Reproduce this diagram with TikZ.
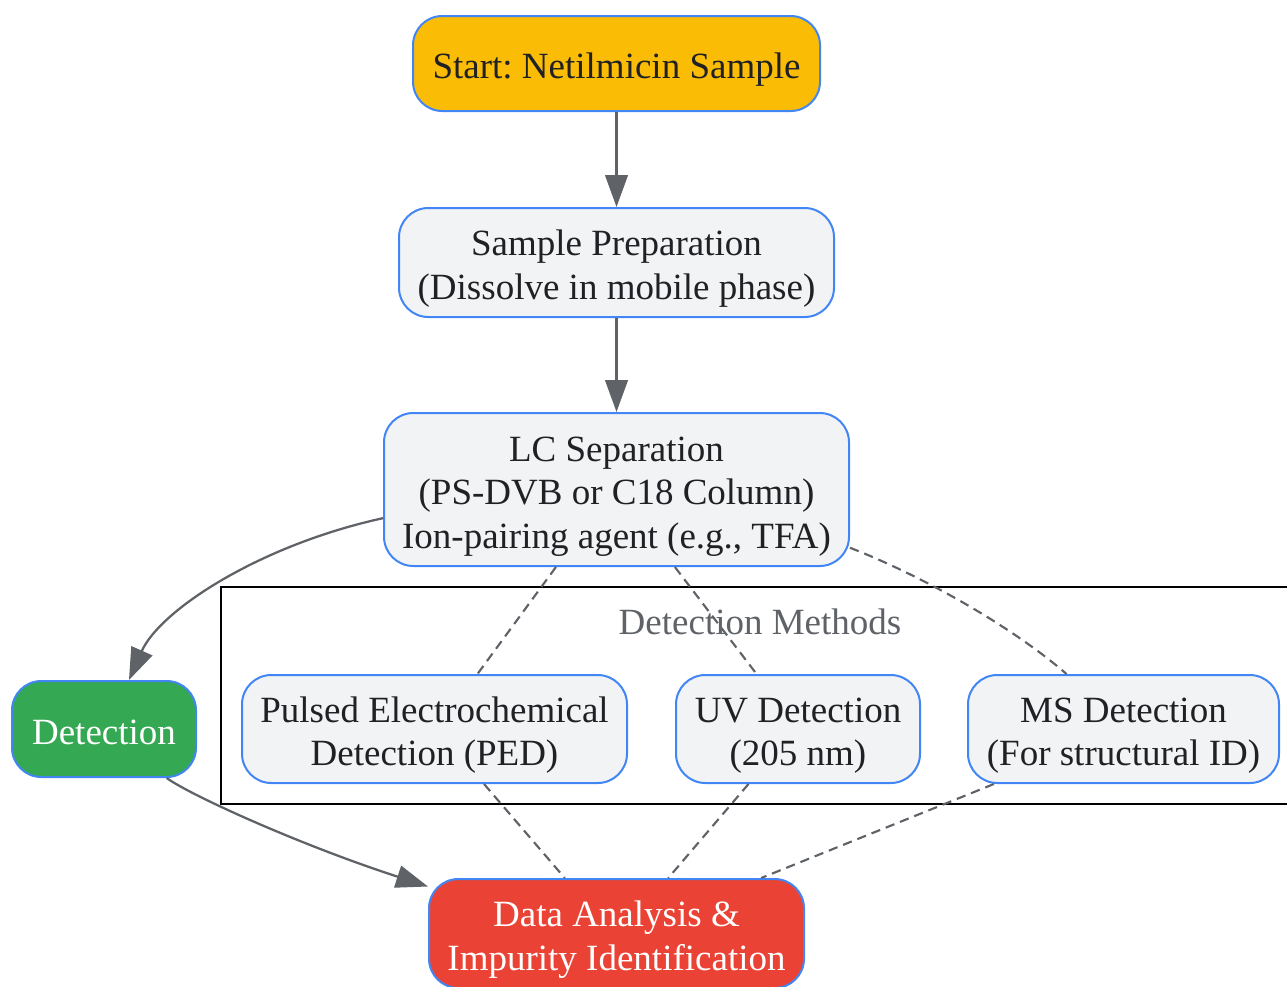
\documentclass[tikz,border=0pt]{standalone}
\usepackage{fontspec}
\setmainfont{Liberation Serif}
\usetikzlibrary{arrows.meta}
\frenchspacing
\definecolor{cYellow}{HTML}{FBBC05}
\definecolor{cGreen}{HTML}{34A853}
\definecolor{cRed}{HTML}{EA4335}
\definecolor{cBlue}{HTML}{4285F4}
\definecolor{cGray}{HTML}{F1F3F4}
\definecolor{cText}{HTML}{202124}
\definecolor{cEdge}{HTML}{5F6368}
\newsavebox\nbox
\newcommand\ntext[1]{\sbox\nbox{\begin{tabular}{@{}c@{}}#1\end{tabular}}\raisebox{-4.8pt}[\ht\nbox][\dp\nbox]{\usebox\nbox}}
\tikzset{
  box/.style={draw=cBlue, line width=1.5pt, rounded corners=22pt, fill=cGray,
    text=cText, inner sep=0pt, align=center,
    font=\fontsize{27.75}{32.6}\selectfont\frenchspacing},
  arr/.style={draw=cEdge, line width=1.7pt, -{Triangle[length=24pt,width=17pt]}},
  dsh/.style={draw=cEdge, line width=1.6pt, dash pattern=on 7pt off 4.5pt},
}
\begin{document}
\begin{tikzpicture}[x=0.75pt,y=-0.75pt]
\useasboundingbox (0,0) rectangle (1287,986);
% cluster
\draw[black, line width=1.5pt] (1295,587) -- (221,587) -- (221,804) -- (1295,804);
\node[text=cEdge, font=\fontsize{27.75}{32.6}\selectfont, inner sep=0pt] (clabel) at (760,619.5) {\ntext{Detection Methods}};
% nodes
\node[box, fill=cYellow, minimum width=305.25pt, minimum height=71.25pt] (start) at (616.5,63.5) {\ntext{Start: Netilmicin Sample}};
\node[box, minimum width=326.25pt, minimum height=81.75pt] (prep) at (616.5,262.5) {\ntext{Sample Preparation\\(Dissolve in mobile phase)}};
\node[box, minimum width=348.75pt, minimum height=114.75pt] (lc) at (616.5,489.5) {\ntext{LC Separation\\(PS-DVB or C18 Column)\\Ion-pairing agent (e.g., TFA)}};
\node[box, fill=cGreen, text=white, minimum width=138pt, minimum height=72pt] (det) at (104,729) {\ntext{Detection}};
\node[box, minimum width=288.75pt, minimum height=81pt] (ped) at (434.5,729) {\ntext{Pulsed Electrochemical\\Detection (PED)}};
\node[box, minimum width=183pt, minimum height=81pt] (uv) at (798,729) {\ntext{UV Detection\\(205 nm)}};
\node[box, minimum width=233.25pt, minimum height=81pt] (ms) at (1123.5,729) {\ntext{MS Detection\\(For structural ID)}};
\node[box, fill=cRed, text=white, minimum width=281.25pt, minimum height=81.75pt] (data) at (616.5,933.5) {\ntext{Data Analysis \&\\Impurity Identification}};
% edges
\draw[arr] (start) -- (prep);
\draw[arr] (prep) -- (lc);
\draw[arr] (lc.187) .. controls (260,545) and (160,610) .. (det.63);
\draw[arr] (det.-38) .. controls (190,795) and (300,845) .. (data.166);
\draw[dsh] (lc.-128) -- (ped.52);
\draw[dsh] (lc.-53) -- (uv.127);
\draw[dsh] (lc.-14) .. controls (920,575) and (1010,625) .. (ms.136);
\draw[dsh] (ped.-48) -- (data.133);
\draw[dsh] (uv.-132) -- (data.47);
\draw[dsh] (ms.-157) -- (data.21);
\end{tikzpicture}
\end{document}
